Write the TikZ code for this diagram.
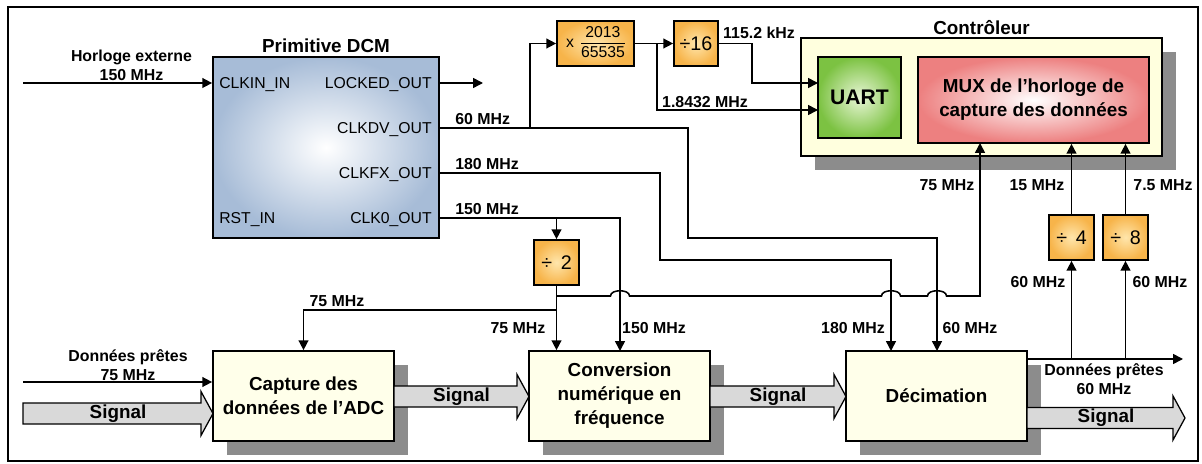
\documentclass[tikz,border=0pt]{standalone}
\usepackage{fontspec}
\setmainfont{Liberation Sans}
\usepackage{tikz}
\usetikzlibrary{arrows.meta, positioning, shadows}

\definecolor{dcmblue}{RGB}{167,188,215}
\definecolor{ctrlyellow}{RGB}{255,255,222}
\definecolor{blkyellow}{RGB}{255,255,234}
\definecolor{uartgreen}{RGB}{124,194,66}
\definecolor{uartlight}{RGB}{232,246,214}
\definecolor{muxred}{RGB}{237,128,128}
\definecolor{divorange}{RGB}{247,180,74}
\definecolor{divlight}{RGB}{255,230,172}
\definecolor{shadowgray}{RGB}{140,140,140}
\definecolor{siggray}{RGB}{217,217,217}

\newcommand{\sigarrow}[4]{%
        \draw[sigarr] (#1,#3-10.5) -- (#2-12,#3-10.5) -- (#2-12,#3-22) -- (#2,#3)
                -- (#2-12,#3+22) -- (#2-12,#3+10.5) -- (#1,#3+10.5) -- cycle;
        \node[sigtext] (#4) at ({(#1+#2)/2},#3) {Signal};}

\begin{document}
\begin{tikzpicture}[x=0.025cm, y=-0.025cm, >={Triangle[length=7pt,width=7pt]},
    wire/.style={line width=1.1pt},
    lbl/.style={font=\fontsize{11.3}{13.5}\selectfont\bfseries, inner sep=0pt, align=center},
    port/.style={font=\fontsize{11.2}{13}\selectfont, inner sep=0pt},
    heading/.style={font=\fontsize{13.4}{16}\selectfont\bfseries, inner sep=0pt},
    boxshadow/.style={drop shadow={opacity=1, fill=shadowgray, shadow xshift=0.35cm, shadow yshift=-0.35cm}},
    blk/.style={draw, line width=1.2pt, fill=blkyellow, boxshadow, minimum width=4.525cm,
        minimum height=2.25cm, inner sep=0pt, align=center, font=\fontsize{13.4}{17}\selectfont\bfseries},
    divbox/.style={draw, line width=1.2pt, inner color=divlight, outer color=divorange,
        minimum width=1.125cm, minimum height=1.125cm, inner sep=0pt, font=\fontsize{14}{15}\selectfont},
    sigarr/.style={draw, line width=0.9pt, fill=siggray},
    sigtext/.style={font=\fontsize{13.4}{16}\selectfont\bfseries, inner sep=0pt}]
        \useasboundingbox (0,0) rectangle (1202,464);
        \draw[line width=1.6pt] (8,7) rectangle (1198,461);

        \node[draw, line width=1.2pt, inner color=white, outer color=dcmblue,
            minimum width=5.65cm, minimum height=4.525cm] (dcm) at (326,147.5) {};
        \node[heading, above=2pt of dcm] (dcmtitle) {Primitive DCM};
        \node[port, anchor=base west] (clkin) at (219,88.5) {CLKIN\_IN};
        \node[port, anchor=base east] (lockedout) at (432,88.5) {LOCKED\_OUT};
        \node[port, anchor=base east] (clkdv) at (432,133.5) {CLKDV\_OUT};
        \node[port, anchor=base east] (clkfx) at (432,178.5) {CLKFX\_OUT};
        \node[port, anchor=base east] (clk0) at (432,223.5) {CLK0\_OUT};
        \node[port, anchor=base west] (rstin) at (219,223.5) {RST\_IN};

        \node[divbox, minimum width=1.925cm, font=\fontsize{11.2}{14.2}\selectfont] (mult) at (595.5,43.5)
            {x\, \begin{tabular}{@{}c@{}}2013\\\hline 65535\end{tabular}};
        \node[divbox, minimum width=1.1cm] (d16) at (696,43.5) {÷16};
        \node[divbox] (d2) at (556.5,262.5) {÷~\,2};
        \node[divbox] (d4) at (1071.5,237.5) {÷~\,4};
        \node[divbox] (d8) at (1125.5,237.5) {÷~\,8};

        \node[draw, line width=1.2pt, fill=ctrlyellow, boxshadow,
            minimum width=9.025cm, minimum height=2.95cm] (ctrl) at (981.5,97) {};
        \node[heading, above=1.5pt of ctrl] (ctrltitle) {Contrôleur};
        \node[draw, line width=1.2pt, inner color=uartlight, outer color=uartgreen,
            minimum width=2.075cm, minimum height=2.025cm,
            font=\fontsize{15}{18}\selectfont\bfseries] (uart) at (859.5,97.5) {UART};
        \node[draw, line width=1.2pt, inner color=white, outer color=muxred,
            minimum width=5.775cm, minimum height=2.15cm, align=center,
            font=\fontsize{13.4}{17}\selectfont\bfseries] (mux) at (1033.5,100)
            {MUX de l’horloge de\\capture des données};

        \node[blk] (cap) at (303.5,396) {Capture des\\données de l’ADC};
        \node[blk] (conv) at (619.5,396) {Conversion\\numérique en\\fréquence};
        \node[blk] (dec) at (936.5,396) {Décimation};

        \coordinate (inclk) at (23,83);
        \coordinate (lockout) at (439,83);
        \coordinate (lockend) at (483,83);
        \coordinate (dvout) at (439,128);
        \coordinate (fxout) at (439,173);
        \coordinate (c0out) at (439,218);
        \coordinate (j60) at (530,128);
        \coordinate (j150) at (556.5,218);
        \coordinate (j18) at (657,43.5);
        \coordinate (uin1) at (818,83);
        \coordinate (uin2) at (818,110);
        \coordinate (j75a) at (556.5,296);
        \coordinate (j75b) at (556.5,310);
        \coordinate (conv150) at (620,351);
        \coordinate (dec180) at (891,351);
        \coordinate (dec60) at (937,351);
        \coordinate (mux75) at (980,143);
        \coordinate (rdyout) at (1027,359);
        \coordinate (rdyend) at (1183,359);
        \coordinate (inrdy) at (23,382);

        \draw[wire,->] (inclk) -- (inclk -| dcm.west);
        \draw[wire,->] (lockout) -- (lockend);
        \draw[wire,->] (dvout) -- (j60) |- (mult.west);
        \draw[wire,->] (j60) -- (688,128) -- (688,238) -- (937,238) -- (dec60);
        \draw[wire,->] (fxout) -- (660,173) -- (660,260) -- (891,260) -- (dec180);
        \draw[wire,->] (c0out) -- (620,218) -- (conv150);
        \draw[wire,->] (j150) -- (d2.north);
        \draw[wire,->] (d2.south) -- (d2.south |- conv.north);
        \draw[wire,->] (j75b) -| (cap.north);
        \draw[wire,->] (j75a) -- (610.5,296) .. controls (610.5,289) and (629.5,289) .. (629.5,296)
            -- (881.5,296) .. controls (881.5,289) and (900.5,289) .. (900.5,296)
            -- (927.5,296) .. controls (927.5,289) and (946.5,289) .. (946.5,296)
            -- (980,296) -- (mux75);
        \draw[wire,->] (mult.east) -- (d16.west);
        \draw[wire,->] (j18) |- (uin2);
        \draw[wire,->] (d16.east) -- (752,43.5) |- (uin1);
        \draw[wire,->] (d4.north) -- (d4.north |- mux.south);
        \draw[wire,->] (d8.north) -- (d8.north |- mux.south);
        \draw[wire,->] (rdyout) -- (rdyend);
        \draw[wire,->] (d4.south |- rdyout) -- (d4.south);
        \draw[wire,->] (d8.south |- rdyout) -- (d8.south);
        \draw[wire,->] (inrdy) -- (inrdy -| cap.west);

        \sigarrow{23}{213}{413.5}{sig1}
        \sigarrow{394}{529}{396.5}{sig2}
        \sigarrow{710}{846}{396.5}{sig3}
        \sigarrow{1027}{1185}{418}{sig4}

        \node[lbl] (lclk) at (131.5,65) {Horloge externe\\150 MHz};
        \node[lbl, anchor=west] (l60) at (455,119) {60 MHz};
        \node[lbl, anchor=west] (l180) at (455,164) {180 MHz};
        \node[lbl, anchor=west] (l150) at (455,209) {150 MHz};
        \node[lbl] (l115) at (759,33) {115.2 kHz};
        \node[lbl] (l18) at (705,102) {1.8432 MHz};
        \node[lbl] (lmux75) at (947,185) {75 MHz};
        \node[lbl] (lmux15) at (1037,185) {15 MHz};
        \node[lbl] (lmux7) at (1163,185) {7.5 MHz};
        \node[lbl] (ld4) at (1038,282) {60 MHz};
        \node[lbl] (ld8) at (1160,282) {60 MHz};
        \node[lbl] (lcap75) at (337,301) {75 MHz};
        \node[lbl] (lconv75) at (518,328) {75 MHz};
        \node[lbl] (lconv150) at (654,328) {150 MHz};
        \node[lbl] (ldec180) at (853,328) {180 MHz};
        \node[lbl] (ldec60) at (970,328) {60 MHz};
        \node[lbl] (lrdyin) at (128,365) {Données prêtes\\75 MHz};
        \node[lbl] (lrdyout) at (1104,379.5) {Données prêtes\\60 MHz};
\end{tikzpicture}
\end{document}
